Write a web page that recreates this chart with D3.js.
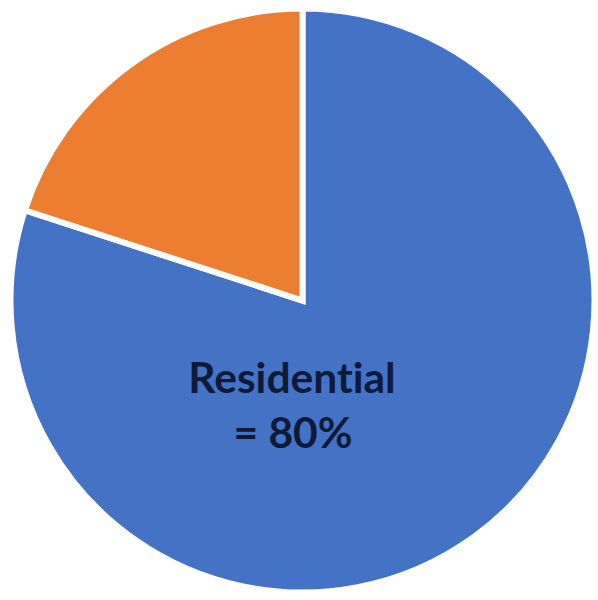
<!DOCTYPE html>
<html>
<head>
<meta charset="utf-8">
<script src="https://cdn.jsdelivr.net/npm/d3@7"></script>
<style>
  html, body { margin: 0; padding: 0; background: #ffffff; }
  svg { display: block; }
</style>
</head>
<body>
<svg id="chart" width="598" height="600"></svg>
<script>
const categories = ["Residential", "Other"];
const values = [80, 20];
const colors = ["#4472C4", "#ED7D31"];
const labelLines = ["Residential", "= 80%"];

const svg = d3.select("#chart");
const cx = 302.5, cy = 300.5, r = 292;

const pie = d3.pie().sort(null).value(d => d.value);
const arcs = pie(categories.map((c, i) => ({ name: c, value: values[i] })));
const arc = d3.arc().innerRadius(0).outerRadius(r);

const g = svg.append("g").attr("transform", `translate(${cx},${cy})`);
g.selectAll("path")
  .data(arcs)
  .join("path")
  .attr("d", arc)
  .attr("fill", (d, i) => colors[i])
  .attr("stroke", "#ffffff")
  .attr("stroke-width", 6)
  .attr("stroke-linejoin", "miter");

const t = svg.append("text")
  .attr("text-anchor", "middle")
  .attr("font-family", "Lato, 'Open Sans', sans-serif")
  .attr("font-weight", "bold")
  .attr("font-size", 42.5)
  .style("font-variant-ligatures", "none")
  .attr("fill", "#0E1A38");
t.append("tspan").attr("x", 292).attr("y", 393).text(labelLines[0]);
t.append("tspan").attr("x", 293).attr("y", 448).text(labelLines[1]);
</script>
</body>
</html>
